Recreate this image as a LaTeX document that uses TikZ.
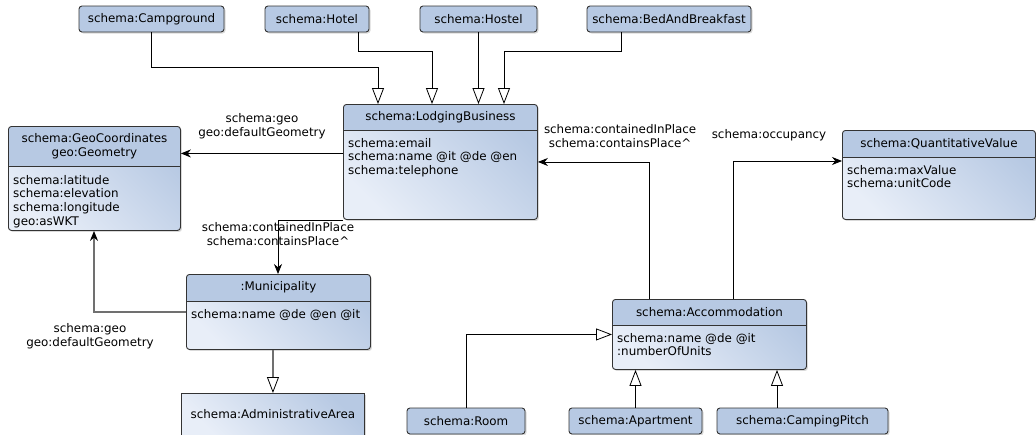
\documentclass[tikz,border=0pt]{standalone}
\usepackage{fontspec}
\setmainfont{DejaVu Sans}
\usepackage{tikz}
\usetikzlibrary{positioning,arrows.meta,shadows}
\definecolor{hdrblue}{RGB}{183,201,227}
\definecolor{paleblue}{RGB}{232,238,248}
\definecolor{boxline}{RGB}{51,51,51}
\definecolor{linkgray}{RGB}{112,112,112}
\tikzset{
	txt/.style={font=\fontsize{11.9}{13.7}\selectfont},
	boxshadow/.style={drop shadow={shadow xshift=1.5pt, shadow yshift=-1.5pt, opacity=0.3}},
	typebox/.style={txt, boxshadow, draw=boxline, line width=0.9pt, rounded corners=3pt, fill=hdrblue,
		minimum height=26pt, inner sep=0pt},
	classbox/.style={boxshadow, draw=boxline, line width=0.9pt, rounded corners=3pt,
		top color=hdrblue, bottom color=paleblue, shading angle=-45, inner sep=0pt, anchor=north west,
		path picture={
			\fill[hdrblue] (path picture bounding box.north west) rectangle ([yshift=-#1]path picture bounding box.north east);
			\draw[boxline, line width=0.9pt] ([yshift=-#1]path picture bounding box.north west) -- ([yshift=-#1]path picture bounding box.north east);
		}},
	plainbox/.style={txt, boxshadow, draw=boxline, line width=0.9pt,
		top color=hdrblue, bottom color=paleblue, shading angle=-45, inner sep=0pt, anchor=north west},
	attrs/.style={txt, align=left, inner sep=0pt, anchor=north west},
	lbl/.style={txt, align=center, text=black, inner sep=2pt},
	assoc/.style={draw=black, line width=0.8pt, -{Stealth[length=10pt, width=8pt, black]}},
	inherit/.style={draw=black, line width=0.8pt, -{Triangle[open, black, fill=white, length=16pt, width=12pt, line width=0.8pt]}},
	graylink/.style={draw=linkgray, line width=1.2pt}
}

\begin{document}
\begin{tikzpicture}[x=1pt, y=-1pt]
	\useasboundingbox (0,0) rectangle (1036,434);

	% lodging types
	\node[typebox, minimum width=145pt] (camp) at (151.5,19) {schema:Campground};
	\node[typebox, minimum width=104pt] (hotel) at (317,19) {schema:Hotel};
	\node[typebox, minimum width=117pt] (hostel) at (478.5,19) {schema:Hostel};
	\node[typebox, minimum width=164pt] (bnb) at (669,19) {schema:BedAndBreakfast};

	% classes
	\node[classbox=26pt, minimum width=194pt, minimum height=115pt] (lodging) at (343,104) {};
	\node[txt] (lodging-t) at ([yshift=-13pt]lodging.north) {schema:LodgingBusiness};
	\node[attrs] (lodging-a) at ([xshift=5pt, yshift=-34pt]lodging.north west)
		{schema:email\\schema:name @it @de @en\\schema:telephone};

	\node[classbox=40pt, minimum width=172pt, minimum height=104pt] (geo) at (8,126) {};
	\node[txt, align=center] (geo-t) at ([yshift=-20pt]geo.north) {schema:GeoCoordinates\\geo:Geometry};
	\node[attrs] (geo-a) at ([xshift=5pt, yshift=-49pt]geo.north west)
		{schema:latitude\\schema:elevation\\schema:longitude\\geo:asWKT};

	\node[classbox=27pt, minimum width=193pt, minimum height=89pt] (qv) at (842,130) {};
	\node[txt] (qv-t) at ([yshift=-13.5pt]qv.north) {schema:QuantitativeValue};
	\node[attrs] (qv-a) at ([xshift=5pt, yshift=-35pt]qv.north west)
		{schema:maxValue\\schema:unitCode};

	\node[classbox=27pt, minimum width=184pt, minimum height=75pt] (muni) at (186,274) {};
	\node[txt] (muni-t) at ([yshift=-13.5pt]muni.north) {:Municipality};
	\node[attrs] (muni-a) at ([xshift=5pt, yshift=-35pt]muni.north west) {schema:name @de @en @it};

	\node[classbox=26pt, minimum width=194pt, minimum height=70pt] (acc) at (612,299) {};
	\node[txt] (acc-t) at ([yshift=-13pt]acc.north) {schema:Accommodation};
	\node[attrs] (acc-a) at ([xshift=5pt, yshift=-34pt]acc.north west)
		{schema:name @de @it\\:numberOfUnits};

	\node[plainbox, minimum width=183pt, minimum height=42pt] (admin) at (181,393) {schema:AdministrativeArea};

	% accommodation types
	\node[typebox, minimum width=118pt] (room) at (466,421) {schema:Room};
	\node[typebox, minimum width=133pt] (apt) at (635.5,421) {schema:Apartment};
	\node[typebox, minimum width=171pt] (pitch) at (802.5,421) {schema:CampingPitch};

	% subclass links
	\coordinate (campbend) at (378,67);
	\coordinate (hotelbend) at (432,51);
	\coordinate (bnbbend) at (504,51);
	\draw[inherit] (camp.south) |- (campbend) -- (campbend |- lodging.north);
	\draw[inherit] ([xshift=41pt]hotel.south) |- (hotelbend) -- (hotelbend |- lodging.north);
	\draw[inherit] (hostel.south) -- (hostel.south |- lodging.north);
	\draw[inherit] ([xshift=-48pt]bnb.south) |- (bnbbend) -- (bnbbend |- lodging.north);

	\draw[inherit] (room.north) |- (acc.west);
	\draw[inherit] (apt.north) -- (apt.north |- acc.south);
	\coordinate (pitchtop) at ([xshift=-25.5pt]pitch.north);
	\draw[inherit] (pitchtop) -- (pitchtop |- acc.south);
	\draw[inherit, graylink] (admin.north |- muni.south) -- (admin.north);

	% properties
	\coordinate (lodgeout) at ([yshift=8.5pt]lodging.west);
	\draw[assoc] (lodgeout) -- node[lbl, above=12pt] {schema:geo\\geo:defaultGeometry} (lodgeout -| geo.east);

	\coordinate (munitop) at ([xshift=92pt]muni.north west);
	\draw[assoc] (lodging.south west) -| node[lbl, below] {schema:containedInPlace\\schema:containsPlace\textasciicircum} (munitop);

	\coordinate (geobottom) at ([xshift=86pt]geo.south west);
	\draw[assoc, graylink] (muni.west) -| node[lbl, below=9pt, xshift=-4pt] {schema:geo\\geo:defaultGeometry} (geobottom);

	\coordinate (accleft) at ([xshift=37pt]acc.north west);
	\draw[assoc] (accleft) |- node[lbl, pos=0.63, above=12pt] {schema:containedInPlace\\schema:containsPlace\textasciicircum} (lodging.east);

	\coordinate (accright) at ([xshift=121pt]acc.north west);
	\coordinate (qvin) at ([yshift=-31pt]qv.north west);
	\draw[assoc] (accright) |- node[lbl, pos=0.665, above=18pt] {schema:occupancy} (qvin);
\end{tikzpicture}
\end{document}
